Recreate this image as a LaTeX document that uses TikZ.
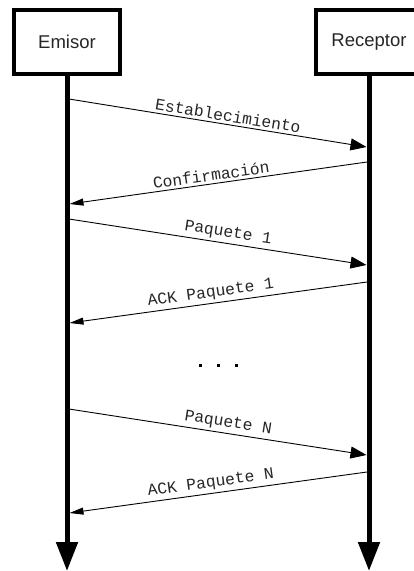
\documentclass[tikz,border=0pt]{standalone}
\usepackage{fontspec}
\setmainfont{Liberation Sans}
\newfontfamily\lblfont{Liberation Mono}
\usetikzlibrary{arrows.meta}
\begin{document}
\begin{tikzpicture}[x=1pt,y=-1pt,
  actor/.style={draw=black,line width=4pt,fill=white,minimum width=106pt,minimum height=64pt,inner sep=0pt,font=\fontsize{18.5}{20}\selectfont,text=black!85},
  lifeline/.style={line width=5pt,-{Triangle[length=29pt,width=21pt]}},
  msgright/.style={line width=0.9pt,-{Triangle[length=16pt,width=12pt]}},
  msgleft/.style={line width=0.9pt,-{Triangle[length=14pt,width=7pt]}},
  msglabel/.style={sloped,above,inner sep=2.5pt,text=black!85,font=\lblfont\fontsize{16.3}{17}\selectfont}]
\clip (0,0) rectangle (414,571);
\fill[white] (0,0) rectangle (414,571);

% participants
\node[actor] (emisor) at (67,42) {Emisor};
\node[actor] (receptor) at (369,42) {Receptor};

% ends of the lifelines
\coordinate (ebot) at (67,571);
\coordinate (rbot) at (369,571);
\draw[lifeline] (emisor.south) -- (ebot);
\draw[lifeline] (receptor.south) -- (rbot);

% message anchors on the lifelines
\coordinate (a1) at (69,99);   \coordinate (b1) at (366.5,147);
\coordinate (b2) at (367,162); \coordinate (a2) at (69.5,204);
\coordinate (a3) at (69,219);  \coordinate (b3) at (366.5,265);
\coordinate (b4) at (367,282); \coordinate (a4) at (69.5,323);
\coordinate (a5) at (69,409);  \coordinate (b5) at (366.5,455);
\coordinate (b6) at (367,472); \coordinate (a6) at (69.5,513);

\draw[msgright] (a1) -- node[msglabel,pos=0.53] {Establecimiento} (b1);
\draw[msgleft]  (b2) -- node[msglabel,pos=0.52] {Confirmación} (a2);
\draw[msgright] (a3) -- node[msglabel,pos=0.53] {Paquete 1} (b3);
\draw[msgleft]  (b4) -- node[msglabel,pos=0.52] {ACK Paquete 1} (a4);
\draw[msgright] (a5) -- node[msglabel,pos=0.53] {Paquete N} (b5);
\draw[msgleft]  (b6) -- node[msglabel,pos=0.52] {ACK Paquete N} (a6);

% gap in the sequence
\foreach \i/\x in {1/200,2/218,3/236}
  \node[fill=black,inner sep=0pt,minimum size=3pt] (dot\i) at (\x,365) {};
\end{tikzpicture}
\end{document}
